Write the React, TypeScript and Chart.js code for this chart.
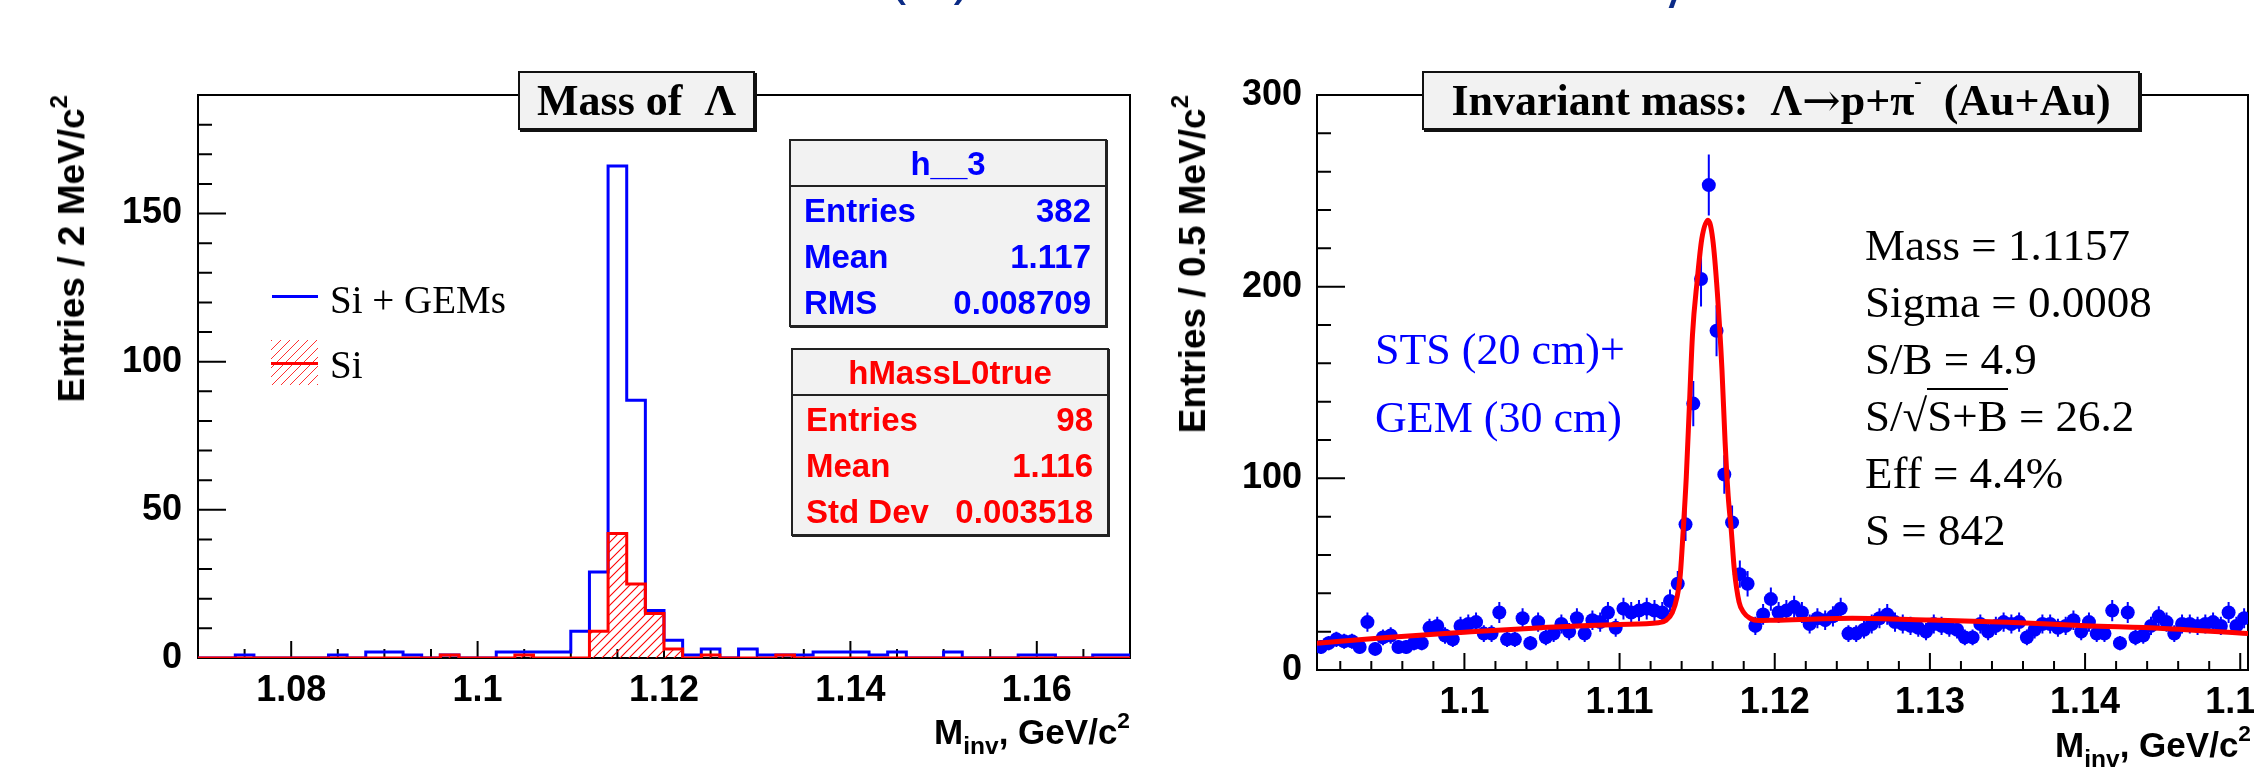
import React, { useEffect, useRef } from 'react';
import { Chart, registerables } from 'chart.js';

Chart.register(...registerables);

const SANS = "'Liberation Sans', Arial, sans-serif";
const SERIF = "'Liberation Serif', 'Times New Roman', serif";
const BLUE = '#0000ff';
const RED = '#ff0000';

// ---------- Left panel: Mass of Lambda (2 MeV bins, 1.070 .. 1.170) ----------
const LEFT_BIN_LOW = 1.07;
const LEFT_BIN_WIDTH = 0.002;
const SI_GEMS_COUNTS = [
  0, 0, 1, 0, 0, 0, 0, 1, 0, 2,
  2, 1, 0, 1, 0, 0, 2, 2, 2, 2,
  9, 29, 166, 87, 16, 6, 1, 3, 0, 3,
  1, 1, 1, 2, 2, 2, 1, 2, 0, 0,
  2, 0, 0, 0, 1, 1, 0, 0, 1, 1,
];
const SI_COUNTS = [
  0, 0, 0, 0, 0, 0, 0, 0, 0, 0,
  0, 0, 0, 1, 0, 0, 0, 1, 0, 0,
  0, 9, 42, 25, 15, 3, 0, 1, 0, 0,
  0, 1, 0, 0, 0, 0, 0, 0, 0, 0,
  0, 0, 0, 0, 0, 0, 0, 0, 0, 0,
];
const LEFT_X_TICKS = [1.08, 1.1, 1.12, 1.14, 1.16];
const LEFT_X_LABELS = ['1.08', '1.1', '1.12', '1.14', '1.16'];
const LEFT_Y_TICKS = [0, 50, 100, 150];
const LEFT_Y_LABELS = ['0', '50', '100', '150'];
const STAT_H3 = [['Entries', '382'], ['Mean', '1.117'], ['RMS', '0.008709']];
const STAT_L0 = [['Entries', '98'], ['Mean', '1.116'], ['Std Dev', '0.003518']];

// ---------- Right panel: invariant mass (0.5 MeV bins, 1.0905 .. 1.1505) ----------
const RIGHT_BIN_LOW = 1.0905;
const RIGHT_BIN_WIDTH = 0.0005;
const LAMBDA_COUNTS = [
  12, 14, 16, 15, 15, 12, 25, 11, 17, 18,
  12, 12, 14, 14, 22, 23, 18, 16, 23, 24,
  25, 19, 19, 30, 16, 16, 27, 14, 25, 17,
  19, 24, 20, 27, 19, 26, 25, 30, 22, 32,
  30, 31, 32, 31, 30, 36, 45, 76, 139, 204,
  253, 177, 102, 77, 50, 45, 23, 29, 37, 30,
  31, 33, 30, 24, 27, 26, 28, 32, 19, 19,
  21, 24, 27, 29, 25, 24, 23, 22, 20, 24,
  23, 22, 21, 17, 17, 24, 20, 23, 25, 24,
  25, 17, 21, 24, 24, 22, 23, 26, 20, 25,
  19, 19, 31, 14, 30, 17, 18, 23, 28, 25,
  19, 24, 24, 23, 24, 25, 23, 30, 23, 27,
];
const FIT_X = [
  1.0905, 1.095, 1.1, 1.105, 1.11, 1.1125, 1.113, 1.1134, 1.1137, 1.1139,
  1.1141, 1.1143, 1.1145, 1.1147, 1.115, 1.1153, 1.1157, 1.116, 1.1163, 1.1166,
  1.1168, 1.117, 1.1172, 1.1174, 1.1177, 1.118, 1.1184, 1.119, 1.12, 1.125,
  1.13, 1.135, 1.14, 1.145, 1.1505,
];
const FIT_Y = [
  13.9, 17.0, 19.7, 22.1, 23.8, 24.6, 26, 30, 38, 48.5,
  72.7, 100.7, 138, 175, 203, 225, 234.7, 225, 197, 156.5,
  119, 90.8, 72.7, 52, 35.5, 30, 27, 25.8, 26, 27,
  26.1, 24.9, 23.1, 21.7, 19.1,
];
const RIGHT_X_TICKS = [1.1, 1.11, 1.12, 1.13, 1.14, 1.15];
const RIGHT_X_LABELS = ['1.1', '1.11', '1.12', '1.13', '1.14', '1.15'];
const RIGHT_Y_TICKS = [0, 100, 200, 300];
const RIGHT_Y_LABELS = ['0', '100', '200', '300'];
const FIT_RESULTS = ['Mass = 1.1157', 'Sigma = 0.0008', 'S/B = 4.9', 'S/\u221AS+B = 26.2', 'Eff = 4.4%', 'S = 842'];

const labelFor = (ticks: number[], labels: string[]) => (v: number) => {
  const i = ticks.findIndex((t) => Math.abs(t - v) < 1e-9);
  return i >= 0 ? labels[i] : '';
};

const stepPoints = (low: number, w: number, counts: number[]) => {
  const pts = counts.map((c, i) => ({ x: low + i * w, y: c }));
  pts.push({ x: low + counts.length * w, y: counts[counts.length - 1] });
  return pts;
};

type TickCfg = {
  xMinor: number; xMajor: number; yMinor: number; yMajor: number;
  xMajorLen: number; xMinorLen: number; yMajorLen: number; yMinorLen: number;
};

function framePlugin(cfg: TickCfg) {
  return {
    id: 'rootFrame',
    beforeDatasetsDraw(chart: any) {
      const { ctx, chartArea: a, scales } = chart;
      const xs = scales.x;
      const ys = scales.y;
      const isMult = (v: number, step: number) => Math.abs(v / step - Math.round(v / step)) < 1e-6;
      ctx.save();
      ctx.strokeStyle = '#000';
      ctx.lineWidth = 2;
      ctx.beginPath();
      const i0 = Math.ceil(xs.min / cfg.xMinor - 1e-6);
      const i1 = Math.floor(xs.max / cfg.xMinor + 1e-6);
      for (let i = i0; i <= i1; i++) {
        const v = i * cfg.xMinor;
        const px = xs.getPixelForValue(v);
        if (px <= a.left + 1 || px >= a.right - 1) continue;
        const len = isMult(v, cfg.xMajor) ? cfg.xMajorLen : cfg.xMinorLen;
        ctx.moveTo(px, a.bottom);
        ctx.lineTo(px, a.bottom - len);
      }
      const j0 = Math.ceil(ys.min / cfg.yMinor - 1e-6);
      const j1 = Math.floor(ys.max / cfg.yMinor + 1e-6);
      for (let j = j0; j <= j1; j++) {
        const v = j * cfg.yMinor;
        const py = ys.getPixelForValue(v);
        if (py <= a.top + 1 || py >= a.bottom - 1) continue;
        const len = isMult(v, cfg.yMajor) ? cfg.yMajorLen : cfg.yMinorLen;
        ctx.moveTo(a.left, py);
        ctx.lineTo(a.left + len, py);
      }
      ctx.stroke();
      ctx.strokeRect(a.left, a.top, a.right - a.left, a.bottom - a.top);
      ctx.restore();
    },
  };
}

const errorBarPlugin = {
  id: 'errBars',
  beforeDatasetsDraw(chart: any) {
    const { ctx, scales } = chart;
    const xs = scales.x;
    const ys = scales.y;
    ctx.save();
    ctx.strokeStyle = BLUE;
    ctx.lineWidth = 2;
    ctx.beginPath();
    LAMBDA_COUNTS.forEach((n, i) => {
      const c = RIGHT_BIN_LOW + (i + 0.5) * RIGHT_BIN_WIDTH;
      const e = Math.sqrt(n);
      const px = xs.getPixelForValue(c);
      ctx.moveTo(px, ys.getPixelForValue(n - e));
      ctx.lineTo(px, ys.getPixelForValue(n + e));
      ctx.moveTo(xs.getPixelForValue(c - RIGHT_BIN_WIDTH / 2), ys.getPixelForValue(n));
      ctx.lineTo(xs.getPixelForValue(c + RIGHT_BIN_WIDTH / 2), ys.getPixelForValue(n));
    });
    ctx.stroke();
    ctx.restore();
  },
};

const tickFont = { family: SANS, size: 36, weight: 'bold' as const };

function axisScales(o: {
  xMin: number; xMax: number; yMin: number; yMax: number;
  xTicks: number[]; xLabels: string[]; yTicks: number[]; yLabels: string[];
  yWidth: number; xHeight: number; xPad: number; yPad: number;
}) {
  const xl = labelFor(o.xTicks, o.xLabels);
  const yl = labelFor(o.yTicks, o.yLabels);
  return {
    x: {
      type: 'linear' as const,
      min: o.xMin,
      max: o.xMax,
      grid: { display: false },
      border: { display: false },
      ticks: { font: tickFont, color: '#000', padding: o.xPad, autoSkip: false, maxRotation: 0, callback: (v: any) => xl(Number(v)) },
      afterBuildTicks: (s: any) => { s.ticks = o.xTicks.map((v) => ({ value: v })); },
      afterFit: (s: any) => { s.height = o.xHeight; },
    },
    y: {
      type: 'linear' as const,
      min: o.yMin,
      max: o.yMax,
      grid: { display: false },
      border: { display: false },
      ticks: { font: tickFont, color: '#000', padding: o.yPad, autoSkip: false, callback: (v: any) => yl(Number(v)) },
      afterBuildTicks: (s: any) => { s.ticks = o.yTicks.map((v) => ({ value: v })); },
      afterFit: (s: any) => { s.width = o.yWidth; },
    },
  };
}

const LEFT_W = 1140;
const RIGHT_X0 = 1140;
const RIGHT_W = 1200; // extends past the page edge so the last tick label is clipped like the original
const H = 773;

function StatBox(props: { left: number; top: number; title: string; rows: string[][]; color: string }) {
  const { left, top, title, rows, color } = props;
  return (
    <div style={{ position: 'absolute', left, top, width: 318, height: 188, boxSizing: 'border-box', border: '2px solid #222', background: '#f2f2f2', boxShadow: '1px 1px 0 #222', fontFamily: SANS, fontWeight: 'bold', fontSize: 33, color, lineHeight: 1 }}>
      <div style={{ height: 44, borderBottom: '2px solid #222', display: 'flex', alignItems: 'center', justifyContent: 'center' }}>{title}</div>
      {rows.map(([k, v]) => (
        <div key={k} style={{ height: 46, display: 'flex', alignItems: 'center', justifyContent: 'space-between', padding: '0 14px 0 13px' }}>
          <span>{k}</span>
          <span>{v}</span>
        </div>
      ))}
    </div>
  );
}

function TitleBox(props: { left: number; width: number; children: any }) {
  return (
    <div style={{ position: 'absolute', left: props.left, top: 71, width: props.width, height: 59, boxSizing: 'border-box', border: '2px solid #111', background: '#f2f2f2', boxShadow: '2px 2px 0 #111', display: 'flex', alignItems: 'center', justifyContent: 'center', fontFamily: SERIF, fontWeight: 'bold', fontSize: 44, color: '#000', whiteSpace: 'nowrap', lineHeight: 1 }}>
      {props.children}
    </div>
  );
}

function YTitle(props: { x: number; text: string }) {
  return (
    <div style={{ position: 'absolute', left: props.x, top: 95, transformOrigin: '0 0', transform: 'rotate(-90deg) translate(-100%, -50%)', whiteSpace: 'nowrap', fontFamily: SANS, fontWeight: 'bold', fontSize: 37, lineHeight: '44px', color: '#000' }}>
      {props.text}
      <span style={{ fontSize: '0.65em', position: 'relative', top: '-0.7em' }}>2</span>
    </div>
  );
}

function XTitle(props: { right: number; top: number }) {
  return (
    <div style={{ position: 'absolute', right: 2254 - props.right, top: props.top, whiteSpace: 'nowrap', fontFamily: SANS, fontWeight: 'bold', fontSize: 35, lineHeight: '35px', color: '#000' }}>
      M<span style={{ fontSize: '0.7em', position: 'relative', top: '0.4em' }}>inv</span>, GeV/c
      <span style={{ fontSize: '0.65em', position: 'relative', top: '-0.7em' }}>2</span>
    </div>
  );
}

const headingBit = { position: 'absolute' as const, fontFamily: "'Open Sans', sans-serif", fontSize: 60, lineHeight: '60px', color: '#0b2b86', whiteSpace: 'nowrap' as const };

export default function App() {
  const leftRef = useRef<HTMLCanvasElement | null>(null);
  const rightRef = useRef<HTMLCanvasElement | null>(null);

  useEffect(() => {
    // hatch pattern for the Si histogram
    const pc = document.createElement('canvas');
    pc.width = 9;
    pc.height = 9;
    const p = pc.getContext('2d')!;
    p.strokeStyle = RED;
    p.lineWidth = 1.1;
    p.beginPath();
    p.moveTo(-1, 10); p.lineTo(10, -1);
    p.moveTo(-1, 1); p.lineTo(1, -1);
    p.moveTo(8, 10); p.lineTo(10, 8);
    p.stroke();
    const lctx = leftRef.current!.getContext('2d')!;
    const hatch = lctx.createPattern(pc, 'repeat');

    const left = new Chart(leftRef.current!, {
      type: 'line',
      data: {
        datasets: [
          {
            label: 'Si',
            data: stepPoints(LEFT_BIN_LOW, LEFT_BIN_WIDTH, SI_COUNTS),
            stepped: 'before',
            borderColor: RED,
            borderWidth: 3,
            backgroundColor: hatch as any,
            fill: 'origin',
            pointRadius: 0,
            order: 0,
          },
          {
            label: 'Si + GEMs',
            data: stepPoints(LEFT_BIN_LOW, LEFT_BIN_WIDTH, SI_GEMS_COUNTS),
            stepped: 'before',
            borderColor: BLUE,
            borderWidth: 3,
            fill: false,
            pointRadius: 0,
            order: 1,
          },
        ],
      },
      options: {
        animation: false,
        responsive: false,
        maintainAspectRatio: false,
        events: [],
        layout: { padding: { top: 95, right: LEFT_W - 1130, left: 0, bottom: 0 }, autoPadding: false },
        plugins: { legend: { display: false }, tooltip: { enabled: false }, title: { display: false } },
        scales: axisScales({
          xMin: 1.07, xMax: 1.17, yMin: 0, yMax: 190,
          xTicks: LEFT_X_TICKS, xLabels: LEFT_X_LABELS, yTicks: LEFT_Y_TICKS, yLabels: LEFT_Y_LABELS,
          yWidth: 198, xHeight: H - 658, xPad: 3, yPad: 8,
        }) as any,
      },
      plugins: [framePlugin({ xMinor: 0.005, xMajor: 0.02, yMinor: 10, yMajor: 50, xMajorLen: 17, xMinorLen: 9, yMajorLen: 28, yMinorLen: 14 })],
    });

    const right = new Chart(rightRef.current!, {
      type: 'scatter',
      data: {
        datasets: [
          {
            label: 'fit',
            data: FIT_X.map((x, i) => ({ x, y: FIT_Y[i] })),
            showLine: true,
            borderColor: RED,
            borderWidth: 5,
            pointRadius: 0,
            cubicInterpolationMode: 'monotone',
            fill: false,
            order: 0,
          },
          {
            label: 'data',
            data: LAMBDA_COUNTS.map((n, i) => ({ x: RIGHT_BIN_LOW + (i + 0.5) * RIGHT_BIN_WIDTH, y: n })),
            showLine: false,
            pointRadius: 7,
            pointBackgroundColor: BLUE,
            pointBorderWidth: 0,
            pointBorderColor: BLUE,
            order: 1,
          },
        ],
      },
      options: {
        animation: false,
        responsive: false,
        maintainAspectRatio: false,
        events: [],
        layout: { padding: { top: 95, right: RIGHT_W - (2248 - RIGHT_X0), left: 0, bottom: 0 }, autoPadding: false },
        plugins: { legend: { display: false }, tooltip: { enabled: false }, title: { display: false } },
        scales: axisScales({
          xMin: 1.0905, xMax: 1.1505, yMin: 0, yMax: 300,
          xTicks: RIGHT_X_TICKS, xLabels: RIGHT_X_LABELS, yTicks: RIGHT_Y_TICKS, yLabels: RIGHT_Y_LABELS,
          yWidth: 1317 - RIGHT_X0, xHeight: H - 670, xPad: 3, yPad: 7,
        }) as any,
      },
      plugins: [
        framePlugin({ xMinor: 0.002, xMajor: 0.01, yMinor: 20, yMajor: 100, xMajorLen: 17, xMinorLen: 9, yMajorLen: 28, yMinorLen: 14 }),
        errorBarPlugin,
      ],
    });

    return () => {
      left.destroy();
      right.destroy();
    };
  }, []);

  return (
    <div style={{ position: 'fixed', left: 0, top: 0, width: 2254, height: H, overflow: 'hidden', background: '#fff' }}>
      {/* clipped remains of a heading above the picture */}
      <div style={{ ...headingBit, left: 890, top: -58 }}>(</div>
      <div style={{ ...headingBit, left: 952, top: -58 }}>)</div>
      <div style={{ ...headingBit, left: 1668, top: -45 }}>/</div>

      <canvas ref={leftRef} width={LEFT_W} height={H} style={{ position: 'absolute', left: 0, top: 0, width: LEFT_W, height: H }} />
      <canvas ref={rightRef} width={RIGHT_W} height={H} style={{ position: 'absolute', left: RIGHT_X0, top: 0, width: RIGHT_W, height: H }} />

      {/* Left panel overlays */}
      <YTitle x={74} text="Entries / 2 MeV/c" />
      <XTitle right={1130} top={714} />
      <TitleBox left={518} width={237}>Mass of&nbsp; Λ</TitleBox>

      <div style={{ position: 'absolute', left: 272, top: 295, width: 46, height: 3, background: BLUE }} />
      <div style={{ position: 'absolute', left: 330, top: 280, fontFamily: SERIF, fontSize: 39, lineHeight: '39px', color: '#000', whiteSpace: 'nowrap' }}>Si + GEMs</div>
      <div style={{ position: 'absolute', left: 271, top: 340, width: 47, height: 45, background: 'repeating-linear-gradient(135deg, #ff3030 0px, #ff3030 1px, rgba(255,255,255,0) 1px, rgba(255,255,255,0) 6.4px)' }} />
      <div style={{ position: 'absolute', left: 271, top: 362, width: 47, height: 3, background: RED }} />
      <div style={{ position: 'absolute', left: 330, top: 345, fontFamily: SERIF, fontSize: 39, lineHeight: '39px', color: '#000', whiteSpace: 'nowrap' }}>Si</div>

      <StatBox left={789} top={139} title="h__3" rows={STAT_H3} color={BLUE} />
      <StatBox left={791} top={348} title="hMassL0true" rows={STAT_L0} color={RED} />

      {/* Right panel overlays */}
      <YTitle x={1195} text="Entries / 0.5 MeV/c" />
      <XTitle right={2251} top={727} />
      <TitleBox left={1422} width={718}>
        Invariant mass:&nbsp; Λ<span style={{ fontFamily: "'DejaVu Serif', serif", fontWeight: 'normal', fontSize: '1.05em' }}>→</span>p+π<span style={{ fontSize: '0.5em', position: 'relative', top: '-0.9em' }}>-</span>&nbsp; (Au+Au)
      </TitleBox>

      <div style={{ position: 'absolute', left: 1375, top: 328, fontFamily: SERIF, fontSize: 44, lineHeight: '44px', color: BLUE, whiteSpace: 'nowrap' }}>STS (20 cm)+</div>
      <div style={{ position: 'absolute', left: 1375, top: 396, fontFamily: SERIF, fontSize: 44, lineHeight: '44px', color: BLUE, whiteSpace: 'nowrap' }}>GEM (30 cm)</div>

      <div style={{ position: 'absolute', left: 1865, top: 217, fontFamily: SERIF, fontSize: 45, lineHeight: '57px', color: '#000', whiteSpace: 'nowrap' }}>
        {FIT_RESULTS.map((t, i) =>
          i === 3 ? (
            <div key={i}>
              S/√<span style={{ borderTop: '2px solid #000', paddingTop: 1 }}>S+B</span> = 26.2
            </div>
          ) : (
            <div key={i}>{t}</div>
          )
        )}
      </div>
    </div>
  );
}
